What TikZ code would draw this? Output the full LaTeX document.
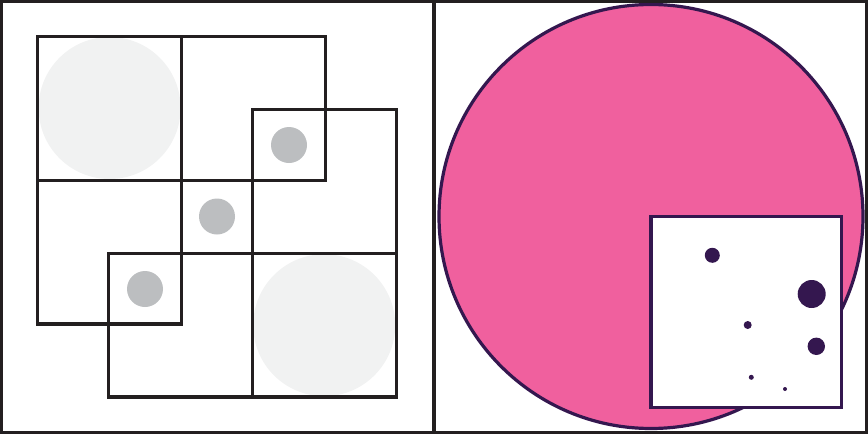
\documentclass[tikz,border=0pt]{standalone}
\definecolor{inkline}{HTML}{231F20}
\definecolor{lightfill}{HTML}{F1F2F2}
\definecolor{dotgray}{HTML}{BCBEC0}
\definecolor{pinkfill}{HTML}{F0609E}
\definecolor{purpleink}{HTML}{34174F}
\tikzset{
  gridsq/.style={draw=inkline, line width=3.1pt},
  bigdisc/.style={fill=lightfill},
  smalldisc/.style={fill=dotgray},
  framebox/.style={draw=inkline, line width=3.2pt},
  speck/.style={fill=purpleink},
}
\begin{document}
\begin{tikzpicture}[x=1pt,y=-1pt]
\useasboundingbox (0,0) rectangle (868,434);
% ---------- left panel ----------
\fill[bigdisc] (109.6,108) circle (71);
\fill[bigdisc] (324.2,325.2) circle (71);
\fill[smalldisc] (289,145) circle (18);
\fill[smalldisc] (217,216.5) circle (18);
\fill[smalldisc] (145,289) circle (18);
% upper-left L of squares
\draw[gridsq] (37.7,36.2) rectangle (181.5,180.3);
\draw[gridsq] (181.5,36.2) rectangle (325.5,180.3);
\draw[gridsq] (37.7,180.3) rectangle (181.5,324);
% lower-right L of squares
\draw[gridsq] (252.5,109.5) rectangle (396.2,253.5);
\draw[gridsq] (108.7,253.5) rectangle (252.5,397);
\draw[gridsq] (252.5,253.5) rectangle (396.2,397);
% ---------- right panel ----------
\filldraw[fill=pinkfill, draw=purpleink, line width=3.2pt] (651,216.5) circle (212);
\filldraw[fill=white, draw=purpleink, line width=3.2pt] (651,216.5) rectangle (841.3,407.3);
\fill[speck] (712.3,255.3) circle (7.5);
\fill[speck] (811.7,294) circle (14);
\fill[speck] (747.7,325) circle (4);
\fill[speck] (816.3,346.3) circle (8.7);
\fill[speck] (751.3,377.3) circle (2.5);
\fill[speck] (785,389) circle (2);
% ---------- frame ----------
\draw[framebox] (1,1) rectangle (867,433);
\draw[framebox] (434,0) -- (434,434);
\end{tikzpicture}
\end{document}
